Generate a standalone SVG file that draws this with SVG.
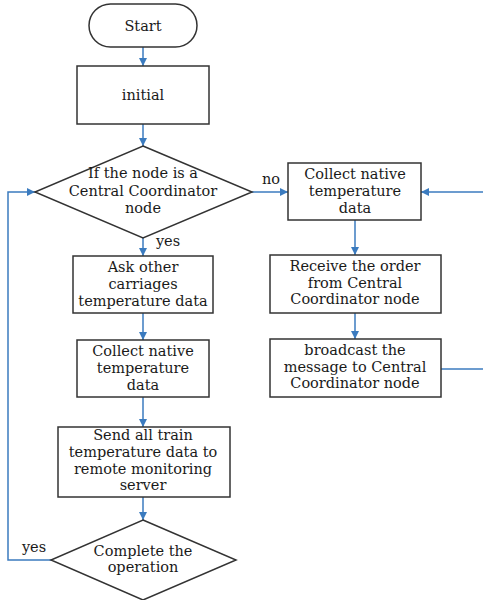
<svg xmlns="http://www.w3.org/2000/svg" width="483" height="600" viewBox="0 0 483 600">
<style>
.n{fill:#fff;stroke:#333;stroke-width:1.5}
.t{font-family:"DejaVu Serif","Liberation Serif",serif;font-size:14.5px;fill:#1a1a1a;text-anchor:middle}
.c{fill:none;stroke:#3b7bbf;stroke-width:1.5}
</style>
<defs>
<marker id="a" viewBox="0 0 10 10" refX="10" refY="5" markerWidth="8" markerHeight="8" markerUnits="userSpaceOnUse" orient="auto">
<path d="M0,0 L10,5 L0,10 Z" fill="#3b7bbf"/>
</marker>
</defs>
<rect width="483" height="600" fill="#fff"/>
<g id="connectors">
<line class="c" x1="143" y1="47" x2="143" y2="66" marker-end="url(#a)"/>
<line class="c" x1="143" y1="124" x2="143" y2="146" marker-end="url(#a)"/>
<line class="c" x1="143" y1="238" x2="143" y2="256" marker-end="url(#a)"/>
<line class="c" x1="143" y1="313" x2="143" y2="340" marker-end="url(#a)"/>
<line class="c" x1="143" y1="397" x2="143" y2="427" marker-end="url(#a)"/>
<line class="c" x1="143" y1="497" x2="143" y2="520" marker-end="url(#a)"/>
<polyline class="c" points="51,560 8,560 8,192 35,192" marker-end="url(#a)"/>
<line class="c" x1="252" y1="192" x2="288" y2="192" marker-end="url(#a)"/>
<line class="c" x1="483" y1="192" x2="421" y2="192" marker-end="url(#a)"/>
<line class="c" x1="355" y1="220" x2="355" y2="255" marker-end="url(#a)"/>
<line class="c" x1="355" y1="313" x2="355" y2="339" marker-end="url(#a)"/>
<line class="c" x1="441" y1="369" x2="483" y2="369"/>
<text class="t" x="271" y="184">no</text>
<text class="t" x="168" y="246">yes</text>
<text class="t" x="34" y="552">yes</text>
</g>
<g id="start">
<rect class="n" x="89" y="4" width="108" height="43" rx="21.5"/>
<text class="t" x="143" y="31">Start</text>
</g>
<g id="initial">
<rect class="n" x="77" y="66" width="132" height="58"/>
<text class="t" x="143" y="100">initial</text>
</g>
<g id="decision1">
<polygon class="n" points="143,146 252,192 143,238 35,192"/>
<text class="t" x="143" y="178">If the node is a</text>
<text class="t" x="143" y="196">Central Coordinator</text>
<text class="t" x="143" y="213">node</text>
</g>
<g id="ask">
<rect class="n" x="73" y="256" width="140" height="57"/>
<text class="t" x="143" y="272">Ask other</text>
<text class="t" x="143" y="289">carriages</text>
<text class="t" x="143" y="306">temperature data</text>
</g>
<g id="collectLeft">
<rect class="n" x="77" y="340" width="132" height="57"/>
<text class="t" x="143" y="356">Collect native</text>
<text class="t" x="143" y="373">temperature</text>
<text class="t" x="143" y="390">data</text>
</g>
<g id="send">
<rect class="n" x="58" y="427" width="172" height="70"/>
<text class="t" x="143" y="440">Send all train</text>
<text class="t" x="143" y="457">temperature data to</text>
<text class="t" x="143" y="474">remote monitoring</text>
<text class="t" x="143" y="490">server</text>
</g>
<g id="decision2">
<polygon class="n" points="143,520 236,560 143,600 51,560"/>
<text class="t" x="143" y="556">Complete the</text>
<text class="t" x="143" y="572">operation</text>
</g>
<g id="collectRight">
<rect class="n" x="288" y="163" width="133" height="57"/>
<text class="t" x="355" y="179">Collect native</text>
<text class="t" x="355" y="196">temperature</text>
<text class="t" x="355" y="213">data</text>
</g>
<g id="receive">
<rect class="n" x="270" y="255" width="171" height="58"/>
<text class="t" x="355" y="271">Receive the order</text>
<text class="t" x="355" y="288">from Central</text>
<text class="t" x="355" y="304">Coordinator node</text>
</g>
<g id="broadcast">
<rect class="n" x="270" y="339" width="171" height="58"/>
<text class="t" x="355" y="355">broadcast the</text>
<text class="t" x="355" y="372">message to Central</text>
<text class="t" x="355" y="388">Coordinator node</text>
</g>
</svg>
